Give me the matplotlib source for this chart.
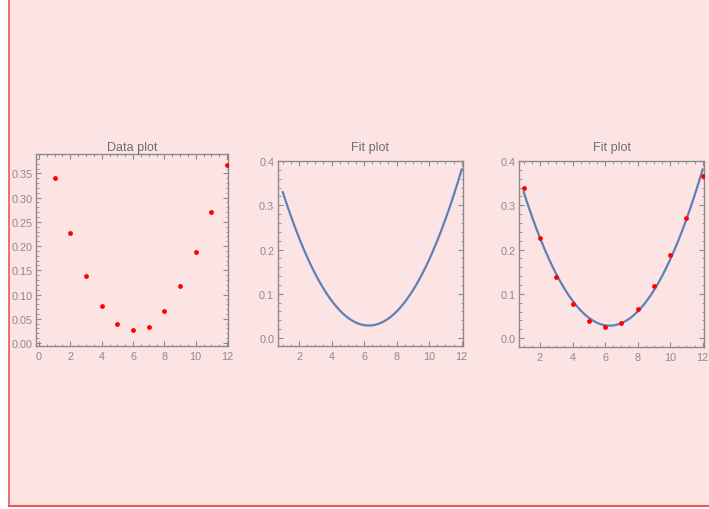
import numpy as np
import matplotlib
matplotlib.use("Agg")
import matplotlib.pyplot as plt
from matplotlib.lines import Line2D
from matplotlib.patches import Rectangle
from matplotlib.ticker import MultipleLocator, FormatStrFormatter

plt.rcParams["font.family"] = ["Liberation Sans", "DejaVu Sans"]

# measured values
xdata = [1, 2, 3, 4, 5, 6, 7, 8, 9, 10, 11, 12]
ydata = [0.340, 0.227, 0.139, 0.076, 0.039, 0.026, 0.034, 0.065, 0.118, 0.187, 0.271, 0.367]

titles = ["Data plot", "Fit plot", "Fit plot"]

pink = "#fde4e4"
border = "#f25656"
framecol = "#8a8a8a"
labelcol = "#8c8a88"
curvecol = "#5e81b5"

W, H = 709, 510
fig = plt.figure(figsize=(W/100, H/100), dpi=100)
fig.patch.set_facecolor("white")

# panel background with red left/bottom edge
fig.add_artist(Rectangle((9/W, 3.5/H), 1 - 9/W, 1 - 3.5/H, transform=fig.transFigure,
                         facecolor=pink, edgecolor="none", zorder=-5))
fig.add_artist(Line2D([9/W, 9/W], [3.5/H, 1], transform=fig.transFigure, color=border, lw=1.2))
fig.add_artist(Line2D([9/W, 1], [3.5/H, 3.5/H], transform=fig.transFigure, color=border, lw=1.5))

def px(l, t, r, b):
    return [l/W, 1 - b/H, (r - l)/W, (b - t)/H]

ax1 = fig.add_axes(px(36, 155, 228, 347))
ax2 = fig.add_axes(px(277.7, 161.7, 463, 347))
ax3 = fig.add_axes(px(519.3, 161.7, 704.3, 348))

# quadratic least-squares fit
coef = np.polyfit(xdata, ydata, 2)
xs = np.linspace(1, 12, 300)
ys = np.polyval(coef, xs)

ax1.scatter(xdata, ydata, s=12, color="red", linewidths=0, zorder=3)
ax2.plot(xs, ys, color=curvecol, lw=1.6)
ax3.plot(xs, ys, color=curvecol, lw=1.6, zorder=2)
ax3.scatter(xdata, ydata, s=12, color="red", linewidths=0, zorder=3)

ax1.set_xlim(-0.19, 12.06)
ax1.set_ylim(-0.0062, 0.390)
ax2.set_xlim(0.69, 12.08)
ax2.set_ylim(-0.018, 0.4007)
ax3.set_xlim(0.73, 12.1)
ax3.set_ylim(-0.02, 0.4007)

pads = [3.0, 7.7, 7.7]
for ax, t, pad in zip([ax1, ax2, ax3], titles, pads):
    ax.set_facecolor("none")
    ax.set_title(t, fontsize=9, color="#6e6e6e", pad=pad)
    for s in ax.spines.values():
        s.set_color(framecol)
        s.set_linewidth(1.0)
    ax.xaxis.set_major_locator(MultipleLocator(2))
    ax.xaxis.set_minor_locator(MultipleLocator(0.5))
    ax.tick_params(which="both", direction="in", top=True, right=True,
                   color=framecol, labelcolor=labelcol, labelsize=7.8)
    ax.tick_params(which="major", length=3.5, width=0.8)
    ax.tick_params(which="minor", length=1.8, width=0.6)
    ax.tick_params(axis="x", pad=3.5)
    ax.tick_params(axis="y", pad=2.5)

ax1.yaxis.set_major_locator(MultipleLocator(0.05))
ax1.yaxis.set_minor_locator(MultipleLocator(0.01))
ax1.yaxis.set_major_formatter(FormatStrFormatter("%.2f"))
for ax in (ax2, ax3):
    ax.yaxis.set_major_locator(MultipleLocator(0.1))
    ax.yaxis.set_minor_locator(MultipleLocator(0.02))
    ax.yaxis.set_major_formatter(FormatStrFormatter("%.1f"))

fig.savefig("out.png", dpi=100)
